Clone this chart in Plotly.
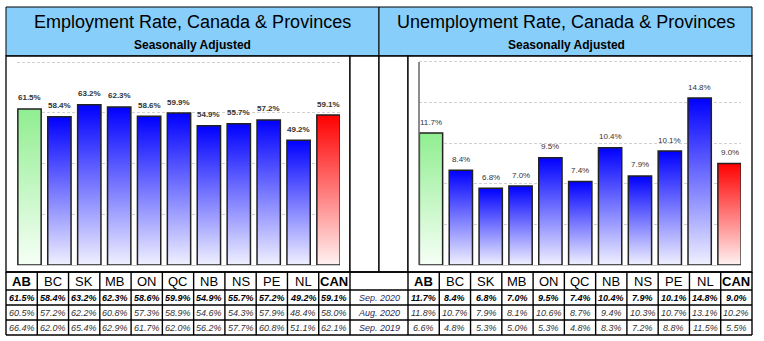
import plotly.graph_objects as go

W, H = 764, 341

# ---------------- data ----------------
provinces = ["AB", "BC", "SK", "MB", "ON", "QC", "NB", "NS", "PE", "NL", "CAN"]
emp_sep2020 = [61.5, 58.4, 63.2, 62.3, 58.6, 59.9, 54.9, 55.7, 57.2, 49.2, 59.1]
emp_aug2020 = [60.5, 57.2, 62.2, 60.8, 57.3, 58.9, 54.6, 54.3, 57.9, 48.4, 58.0]
emp_sep2019 = [66.4, 62.0, 65.4, 62.9, 61.7, 62.0, 56.2, 57.7, 60.8, 51.1, 62.1]
unemp_sep2020 = [11.7, 8.4, 6.8, 7.0, 9.5, 7.4, 10.4, 7.9, 10.1, 14.8, 9.0]
unemp_aug2020 = [11.8, 10.7, 7.9, 8.1, 10.6, 8.7, 9.4, 10.3, 10.7, 13.1, 10.2]
unemp_sep2019 = [6.6, 4.8, 5.3, 5.0, 5.3, 4.8, 8.3, 7.2, 8.8, 11.5, 5.5]
period_labels = ["Sep. 2020", "Aug. 2020", "Sep. 2019"]
titles = ["Employment Rate, Canada & Provinces", "Unemployment Rate, Canada & Provinces"]
subtitle = "Seasonally Adjusted"
emp_gridticks = [20, 40, 60, 80]
unemp_gridticks = [3.6, 7.2, 10.8, 14.4, 18.0]

FONT = "Liberation Sans, Arial, sans-serif"


def px(x):
    return x / W


def py(y):
    return 1 - y / H


def scale_for(name):
    if name == "AB":
        return [[0, "#f6fff6"], [1, "#90ee90"]]
    if name == "CAN":
        return [[0, "#fff2f2"], [1, "#ff0000"]]
    return [[0, "#f0f0ff"], [1, "#0000ff"]]


fig = go.Figure()
annotations = []
shapes = []


def note(x, y, text, size, color="black", xref="paper", yref="paper", yshift=0):
    annotations.append(dict(x=x, y=y, xref=xref, yref=yref, yshift=yshift, showarrow=False,
                            xanchor="center", yanchor="middle", text=text,
                            font=dict(size=size, color=color, family=FONT)))


BW = 0.78
panels = [
    ("x", "y", emp_sep2020, True),
    ("x2", "y2", unemp_sep2020, False),
]
for xa, ya, vals, bold in panels:
    for i, (name, v) in enumerate(zip(provinces, vals)):
        x0, x1 = i - BW / 2, i + BW / 2
        fig.add_trace(go.Scatter(
            x=[x0, x0, x1, x1, x0], y=[0, v, v, 0, 0],
            xaxis=xa, yaxis=ya, mode="lines", fill="toself",
            fillgradient=dict(type="vertical", colorscale=scale_for(name)),
            line=dict(color="#222222", width=1.5),
            hoverinfo="skip", showlegend=False,
        ))
        txt = f"{v:.1f}%"
        note(i, v, f"<b>{txt}</b>" if bold else txt, 8, "#333333", xref=xa, yref=ya, yshift=11)

# ---------------- frames & headers ----------------
def rect(x0, y0, x1, y1, fill="rgba(0,0,0,0)", lw=1, layer="below", color="black"):
    shapes.append(dict(type="rect", xref="paper", yref="paper",
                       x0=px(x0), x1=px(x1), y0=py(y1), y1=py(y0),
                       fillcolor=fill, line=dict(color=color, width=lw), layer=layer))


def line(x0, y0, x1, y1, lw=1.4, color="black"):
    shapes.append(dict(type="line", xref="paper", yref="paper",
                       x0=px(x0), x1=px(x1), y0=py(y0), y1=py(y1),
                       line=dict(color=color, width=lw), layer="above"))


rect(6, 7, 379, 56, fill="#87cefa")
rect(379, 7, 752, 56, fill="#87cefa")
rect(6, 56, 350, 272, fill="white", lw=1.3)
rect(350, 56, 379, 272, fill="white", lw=1.3)
rect(379, 56, 408, 272, fill="white", lw=1.3)
rect(408, 56, 752, 272, fill="white", lw=1.3)

for cx, t in zip([193, 566], titles):
    note(px(cx), py(22), t, 18)
    note(px(cx), py(45), f"<b>{subtitle}</b>", 12)

# right panel vertical axis line
shapes.append(dict(type="line", xref="x2 domain", yref="y2", x0=0, x1=0, y0=0, y1=18,
                   line=dict(color="#666666", width=1.5), layer="above"))

# ---------------- table ----------------
row_y = [272, 290, 305, 320, 335]
CW = (350 - 6) / 11
for y in row_y:
    line(6, y, 752, y)
for k in range(12):
    line(6 + CW * k, 272, 6 + CW * k, 335)
    line(408 + CW * k, 272, 408 + CW * k, 335)

left_rows = [emp_sep2020, emp_aug2020, emp_sep2019]
right_rows = [unemp_sep2020, unemp_aug2020, unemp_sep2019]
for k, name in enumerate(provinces):
    lab = f"<b>{name}</b>" if name in ("AB", "CAN") else name
    for x_start in (6, 408):
        note(px(x_start + CW * (k + 0.5)), py(281.5), lab, 13)
    for r in range(3):
        ycen = (row_y[r + 1] + row_y[r + 2]) / 2
        for x_start, rows in ((6, left_rows), (408, right_rows)):
            t = f"{rows[r][k]:.1f}%"
            t = f"<b><i>{t}</i></b>" if r == 0 else f"<i>{t}</i>"
            note(px(x_start + CW * (k + 0.5)), py(ycen), t, 9,
                 "black" if r == 0 else "#333333")
for r, lab in enumerate(period_labels):
    ycen = (row_y[r + 1] + row_y[r + 2]) / 2
    note(px(379), py(ycen), f"<i>{lab}</i>", 9, "#2a2a5a")

# ---------------- axes ----------------
common_x = dict(showticklabels=False, showgrid=False, zeroline=False, ticks="",
                showline=True, linecolor="#c8c8c8", linewidth=1)
common_y = dict(showticklabels=False, showgrid=True, gridcolor="#d0d0d0", griddash="3px,2px",
                gridwidth=1, zeroline=False, ticks="", showline=False)

fig.update_layout(
    width=W, height=H, margin=dict(l=0, r=0, t=0, b=0),
    paper_bgcolor="white", plot_bgcolor="rgba(0,0,0,0)",
    showlegend=False,
    xaxis=dict(domain=[px(17), px(340)], range=[-0.418, 10.385], anchor="y", **common_x),
    yaxis=dict(domain=[py(265), py(57)], range=[0, 82], tickvals=emp_gridticks, anchor="x", **common_y),
    xaxis2=dict(domain=[px(419), px(741)], range=[-0.402, 10.385], anchor="y2", **common_x),
    yaxis2=dict(domain=[py(265), py(57)], range=[0, 18.44], tickvals=unemp_gridticks, anchor="x2", **common_y),
    shapes=shapes, annotations=annotations,
)

fig.write_html("out.html")
